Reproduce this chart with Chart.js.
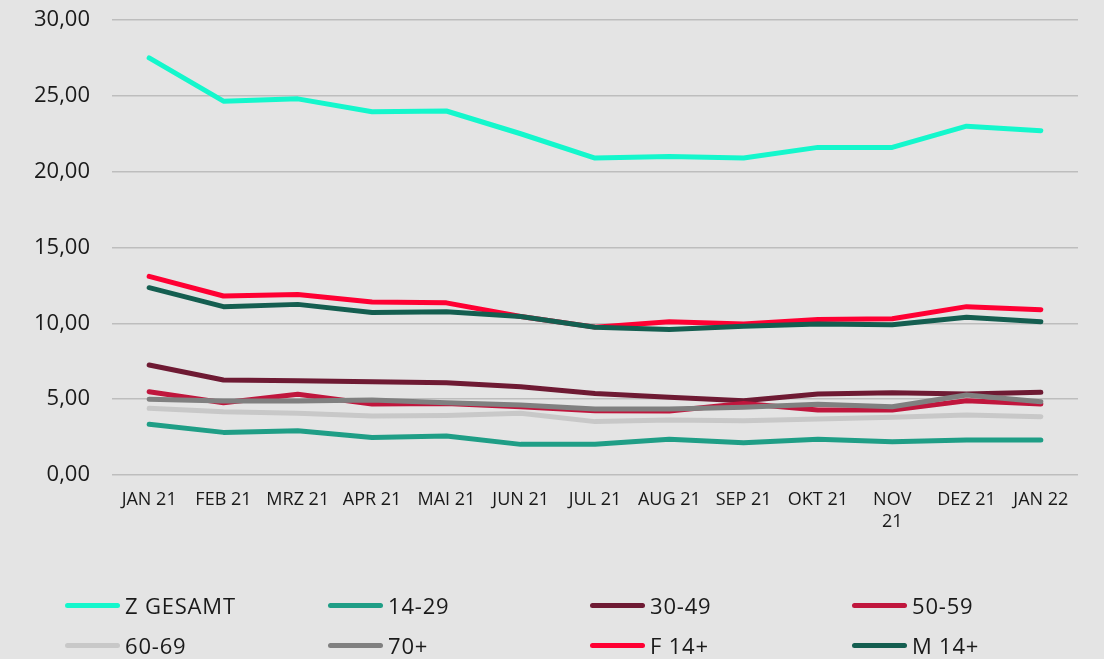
<!DOCTYPE html>
<html lang="de">
<head>
    <meta charset="UTF-8">
    <title>Reichweite</title>
    <style>
        body {
            margin: 0;
            background-color: #e4e4e4;
            font-family: "Open Sans", sans-serif;
        }
        .wrap {
            position: relative;
            width: 1104px;
            height: 659px;
        }
        #legend {
            position: absolute;
            left: 0;
            top: 590px;
            width: 1104px;
        }
        .item {
            position: absolute;
            display: flex;
            align-items: center;
            font-size: 22px;
            letter-spacing: 0.8px;
            color: #1a1a1a;
            white-space: nowrap;
        }
        .swatch {
            width: 55px;
            height: 5px;
            border-radius: 3px;
            margin-right: 5px;
        }
    </style>
</head>
<body>
    <div class="wrap">
        <canvas id="chart" width="1104" height="659"></canvas>
        <div id="legend"></div>
    </div>

    <script src="https://cdn.jsdelivr.net/npm/chart.js"></script>
    <script>
        const months = ['JAN 21', 'FEB 21', 'MRZ 21', 'APR 21', 'MAI 21', 'JUN 21', 'JUL 21',
                        'AUG 21', 'SEP 21', 'OKT 21', ['NOV', '21'], 'DEZ 21', 'JAN 22'];

        const seriesNames = ['Z GESAMT', '14-29', '30-49', '50-59', '60-69', '70+', 'F 14+', 'M 14+'];
        const seriesColors = ['#14f7cc', '#1f9e86', '#6e1a33', '#c0163d', '#c8c8c8', '#808080', '#ff0033', '#145e50'];

        const zGesamt = [27.5, 24.65, 24.8, 23.95, 24.0, 22.5, 20.9, 21.0, 20.9, 21.6, 21.6, 23.0, 22.7];
        const age1429 = [3.34, 2.81, 2.92, 2.48, 2.57, 2.02, 2.02, 2.35, 2.13, 2.35, 2.2, 2.31, 2.31];
        const age3049 = [7.25, 6.26, 6.22, 6.15, 6.09, 5.82, 5.38, 5.12, 4.9, 5.34, 5.43, 5.34, 5.45];
        const age5059 = [5.49, 4.77, 5.32, 4.68, 4.72, 4.5, 4.24, 4.22, 4.72, 4.28, 4.28, 4.9, 4.68];
        const age6069 = [4.4, 4.17, 4.07, 3.89, 3.93, 4.07, 3.52, 3.63, 3.58, 3.69, 3.8, 3.95, 3.84];
        const age70 = [5.0, 4.88, 4.88, 4.94, 4.77, 4.61, 4.35, 4.35, 4.46, 4.66, 4.5, 5.27, 4.83];
        const female = [13.1, 11.8, 11.9, 11.4, 11.35, 10.45, 9.75, 10.1, 9.95, 10.25, 10.3, 11.1, 10.9];
        const male = [12.35, 11.1, 11.25, 10.72, 10.77, 10.45, 9.74, 9.6, 9.8, 9.95, 9.9, 10.4, 10.1];

        const seriesData = [zGesamt, age1429, age3049, age5059, age6069, age70, female, male];

        const datasets = seriesNames.map((name, i) => ({
            label: name,
            data: seriesData[i],
            borderColor: seriesColors[i],
            backgroundColor: seriesColors[i],
            borderWidth: 5,
            borderCapStyle: 'round',
            borderJoinStyle: 'round',
            pointRadius: 0,
            tension: 0,
            order: seriesNames.length - i  // later series drawn on top
        }));

        new Chart(document.getElementById('chart'), {
            type: 'line',
            data: { labels: months, datasets: datasets },
            options: {
                responsive: false,
                animation: false,
                layout: { padding: { left: 0, right: 26, top: 20, bottom: 114 } },
                plugins: {
                    legend: { display: false },
                    tooltip: { enabled: false }
                },
                scales: {
                    x: {
                        offset: true,
                        grid: { display: false },
                        border: { display: false },
                        ticks: {
                            autoSkip: false,
                            maxRotation: 0,
                            minRotation: 0,
                            color: '#1a1a1a',
                            font: { family: 'Open Sans', size: 18 },
                            padding: 6
                        },
                        afterFit: scale => {
                            scale.height = 70;
                            scale.paddingLeft = 0;
                            scale.paddingRight = 0;
                        }
                    },
                    y: {
                        min: 0,
                        max: 30,
                        ticks: {
                            stepSize: 5,
                            color: '#1a1a1a',
                            padding: 22,
                            font: { family: 'Open Sans', size: 22 },
                            callback: v => v.toFixed(2).replace('.', ',')
                        },
                        grid: { color: '#bdbdbd', lineWidth: 1.5, drawTicks: false },
                        border: { display: false },
                        afterFit: scale => {
                            scale.width = 112;
                            scale.paddingTop = 0;
                            scale.paddingBottom = 0;
                        }
                    }
                }
            }
        });

        // legend in 4 fixed columns
        const legend = document.getElementById('legend');
        const colX = [65, 328, 590, 852];
        seriesNames.forEach((name, i) => {
            const item = document.createElement('div');
            item.className = 'item';
            item.style.left = colX[i % 4] + 'px';
            item.style.top = (i < 4 ? 0 : 40) + 'px';
            item.innerHTML = '<span class="swatch" style="background:' + seriesColors[i] + '"></span>' + name;
            legend.appendChild(item);
        });
    </script>
</body>
</html>
